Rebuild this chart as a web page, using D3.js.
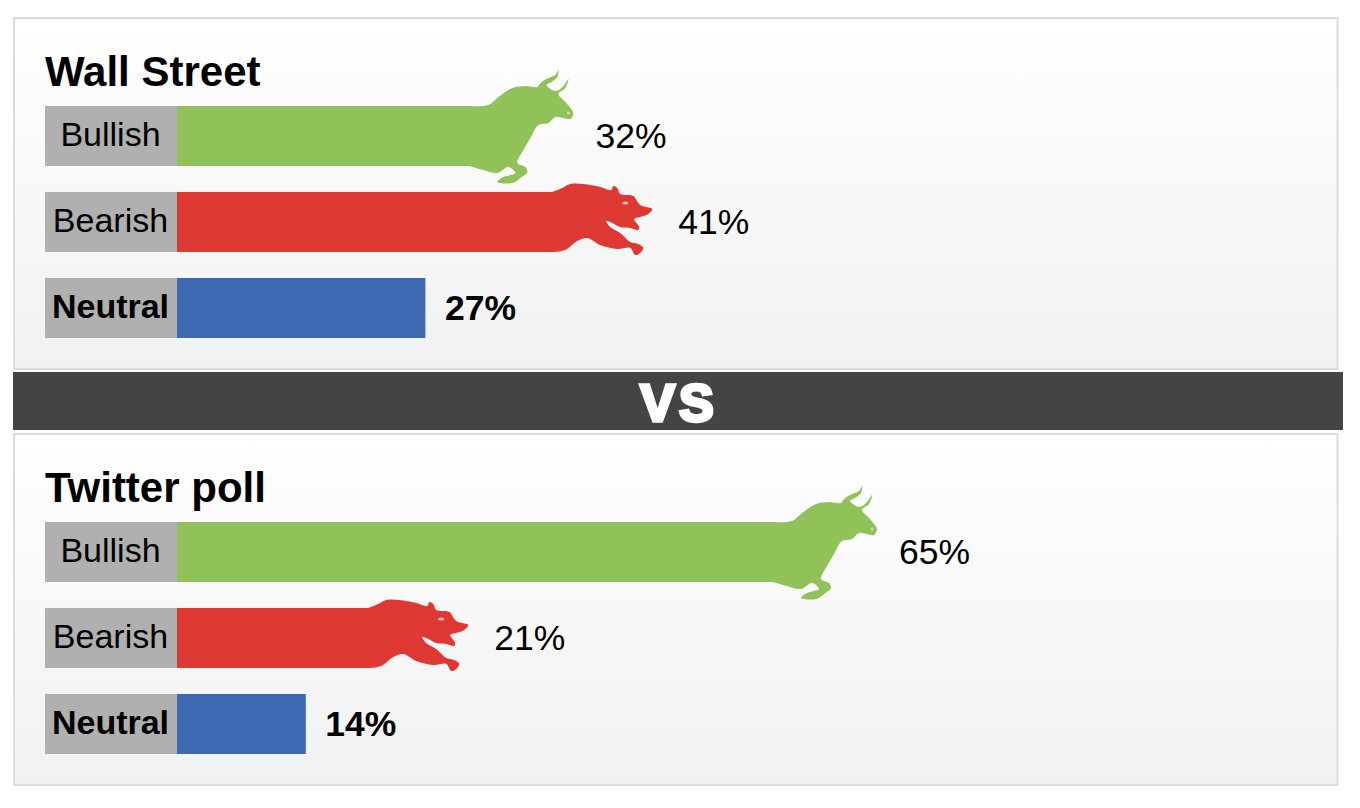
<!DOCTYPE html>
<html><head><meta charset="utf-8">
<script src="https://cdnjs.cloudflare.com/ajax/libs/d3/7.8.5/d3.min.js"></script>
<style>html,body{margin:0;padding:0;background:#fff}svg{display:block}text{font-family:"Liberation Sans",Arial,sans-serif;fill:#000}</style>
</head><body><svg id="c" width="1360" height="808"></svg>
<script>
const categories = ["Bullish", "Bearish", "Neutral"];
const wallStreetValues = [32, 41, 27];
const twitterValues = [65, 21, 14];
const panelTitles = ["Wall Street", "Twitter poll"];
const dividerLabel = "VS";
const barColors = ["#90c259", "#dd3932", "#3c69b2"];

// Silhouettes, in px from the end of the bar / top of the bar
const bullShape = [[-2,0],[17,-1],[27,-9],[41,-18],[54,-20],[66,-19],[69,-23],[77,-28],[84,-31],[87,-36],[86,-29],[80,-24],[75,-21],[84,-15],[91,-19],[97,-27],[94,-18],[87,-12],[94,-4],[99,2],[102,7],[99,13],[92,12],[84,11],[77,17],[67,19],[59,32],[52,44],[46,57],[54,61],[56,66],[49,72],[41,77],[26,76],[32,71],[44,67],[37,61],[26,67],[12,64],[-2,60]];
const bearShape = [[-2,0],[8,-4],[16,-8],[29,-8],[46,-5],[57,-2],[59,-6],[63,-4],[66,2],[79,4],[86,13],[98,17],[94,22],[86,25],[80,27],[85,35],[84,38],[76,36],[66,35],[56,30],[52,29],[56,35],[66,41],[76,50],[84,52],[89,56],[86,61],[81,63],[76,56],[63,57],[46,53],[33,46],[23,49],[11,58],[-2,60]];
const shapes = [bullShape, bearShape, null];

const svg = d3.select("#c");
const x = d3.scaleLinear().domain([0, 100]).range([177, 1097]);
const panels = [
  {top: 17, title: panelTitles[0], values: wallStreetValues},
  {top: 433, title: panelTitles[1], values: twitterValues}
];
const grad = svg.append("defs").append("linearGradient").attr("id","g").attr("x1",0).attr("x2",0).attr("y1",0).attr("y2",1);
grad.append("stop").attr("offset",0).attr("stop-color","#ffffff");
grad.append("stop").attr("offset",1).attr("stop-color","#f1f1f1");
const outline = d3.line().curve(d3.curveCatmullRom.alpha(0.5));

panels.forEach(p => {
  const g = svg.append("g").attr("transform", `translate(0,${p.top})`);
  g.append("rect").attr("x",14).attr("y",1).attr("width",1323.5).attr("height",351)
    .attr("fill","url(#g)").attr("stroke","#dcdcdc").attr("stroke-width",2);
  g.append("text").attr("x",45).attr("y",69).attr("font-size",42).attr("font-weight","bold").text(p.title);
  const y = d3.scaleBand().domain(categories).range([89, 321]).paddingInner(26/86).paddingOuter(0);
  categories.forEach((c,i) => {
    const v = p.values[i], bold = i === 2, yy = y(c), h = y.bandwidth(), cx = x(v);
    g.append("rect").attr("x",45).attr("y",yy).attr("width",x(0)-45).attr("height",h).attr("fill","#b0b0b0");
    g.append("text").attr("x",110.5).attr("y",yy+h/2-2).attr("text-anchor","middle").attr("dominant-baseline","central")
      .attr("font-size",34).attr("font-weight",bold?"bold":"normal").text(c);
    g.append("rect").attr("x",x(0)).attr("y",yy).attr("width",cx-x(0)).attr("height",h).attr("fill",barColors[i]);
    const shape = shapes[i];
    if (shape) {
      g.append("path").attr("transform",`translate(${cx},${yy})`).attr("d",outline(shape)+"Z").attr("fill",barColors[i]);
      const eye = i === 0 ? [97,7] : [71,11];
      g.append("ellipse").attr("transform",`translate(${cx+eye[0]},${yy+eye[1]})`).attr("rx",i===0?1.5:3).attr("ry",1.5).attr("fill","#f4d9d0").attr("opacity",0.8);
    }
    g.append("text").attr("x",cx+(shape?124:19.5)).attr("y",yy+h/2).attr("dominant-baseline","central")
      .attr("font-size",35.5).attr("font-weight",bold?"bold":"normal").text(v+"%");
  });
});
svg.append("rect").attr("x",13).attr("y",372).attr("width",1330).attr("height",58).attr("fill","#444444");
svg.append("text").attr("x",679).attr("y",420.5).attr("text-anchor","middle").attr("font-size",52).attr("font-weight","bold")
  .style("fill","#fff").attr("stroke","#fff").attr("stroke-width",3.5).attr("letter-spacing",4).text(dividerLabel);
</script></body></html>
